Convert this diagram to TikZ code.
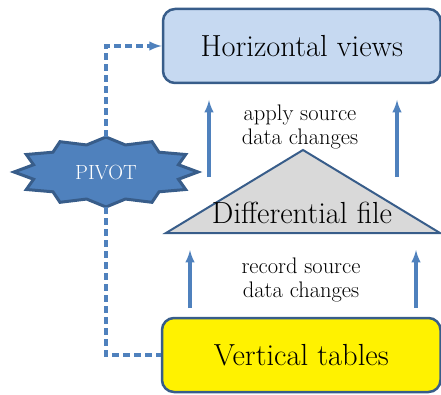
\documentclass[tikz,border=0pt]{standalone}
\usepackage{tikz}
\usetikzlibrary{arrows,shapes.geometric}

\definecolor{accblue}{HTML}{4F81BD}
\definecolor{darkblue}{HTML}{385D8A}
\definecolor{paleblue}{HTML}{C6D9F1}
\definecolor{lightgray}{HTML}{D9D9D9}

\begin{document}
\begin{tikzpicture}[x=1pt, y=1pt,
    bigfont/.style={font=\fontsize{30.5}{34}\selectfont},
    smallfont/.style={font=\fontsize{22.5}{23.5}\selectfont},
    box/.style={draw=darkblue, line width=2.5pt, rounded corners=12pt,
      inner sep=0pt, bigfont},
    flow/.style={draw=accblue, line width=3.2pt, -latex},
    pivotlink/.style={flow, dash pattern=on 7pt off 4pt},
    burst/.style={fill=accblue, draw=darkblue, line width=3pt, line join=miter}]
  \useasboundingbox (0,0) rectangle (441,394);

  % boxes
  \node[box, fill=paleblue, minimum width=277.5pt, minimum height=74pt]
    (views) at (301.75,348) {Horizontal views};
  \node[box, fill=yellow, minimum width=278.5pt, minimum height=74pt]
    (tables) at (301.25,39) {Vertical tables};

  % differential file
  \draw[fill=lightgray, draw=darkblue, line width=2pt]
    (166,161) -- (303,244) -- (440,161) -- cycle;
  \node[bigfont, anchor=base] (diff) at (302,171) {Differential file};

  % pivot star
  \node[ellipse, minimum width=184pt, minimum height=70pt, inner sep=0pt]
    (pivot) at (106,222) {};
  \draw[burst, shift={(106,222)}] (0:92 and 35)
    \foreach \a in {0,30,...,330} { -- (\a:92 and 35) -- (\a+15:75 and 28) }
    -- cycle;
  \node[text=white, font=\fontsize{20.5}{22}\selectfont] at (pivot) {PIVOT};

  % labels
  \node[smallfont, align=center] (apply) at (300,267)
    {apply source\\data changes};
  \node[smallfont, align=center] (record) at (301,114)
    {record source\\data changes};

  % arrows
  \foreach \n/\x in {up1/209,up2/397}
  {
    \coordinate (\n s) at (\x,217);
    \coordinate (\n e) at (\x,294);
    \draw[flow] (\n s) -- (\n e);
  }
  \foreach \n/\x in {lo1/190,lo2/416}
  {
    \coordinate (\n s) at (\x,86);
    \coordinate (\n e) at (\x,144);
    \draw[flow] (\n s) -- (\n e);
  }

  % pivot links
  \draw[pivotlink] (pivot.north) |- (views.west);
  \draw[pivotlink, -] (pivot.south) |- (tables.west);
\end{tikzpicture}
\end{document}
